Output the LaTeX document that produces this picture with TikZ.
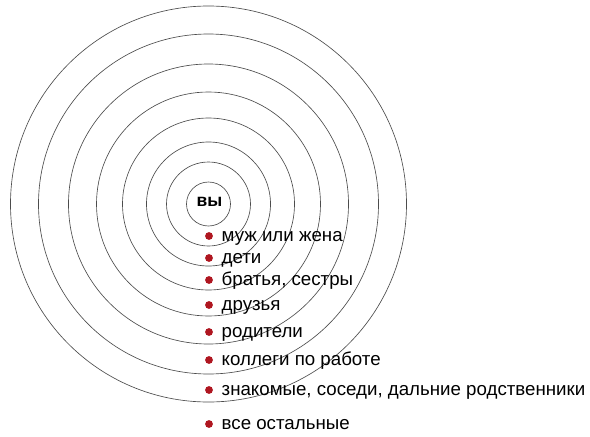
\documentclass[tikz,border=0pt]{standalone}
\usepackage{fontspec}
\setmainfont{Liberation Sans}
\usetikzlibrary{positioning}
\definecolor{dotred}{RGB}{175,22,32}
\tikzset{ring/.style={draw=black!70,line width=0.65pt},
  dot/.style={circle,fill=dotred,inner sep=0pt,minimum size=7.8pt},
  lbl/.style={anchor=base west,inner sep=0pt,font=\fontsize{18.7}{20}\selectfont}}

\begin{document}
\begin{tikzpicture}[x=1pt,y=-1pt]
\useasboundingbox (0,0) rectangle (590,437);
% rings
\foreach \r in {22,42,62,86,112,140,170,198}
  \draw[ring] (208.5,204) circle[radius=\r pt];
\node[font=\bfseries\fontsize{17.5}{18}\selectfont] (you) at (209.5,202) {вы};
% list
\foreach \y/\t [count=\i] in {236/{муж или жена},258/{дети},280/{братья, сестры},305/{друзья},332/{родители},360/{коллеги по работе},390/{знакомые, соседи, дальние родственники},424/{все остальные}}{
  \node[dot] (d\i) at (209,\y) {};
  \node[lbl] (t\i) at ([xshift=12.5pt,yshift=-5pt]d\i.center) {\t};
}
\end{tikzpicture}
\end{document}
